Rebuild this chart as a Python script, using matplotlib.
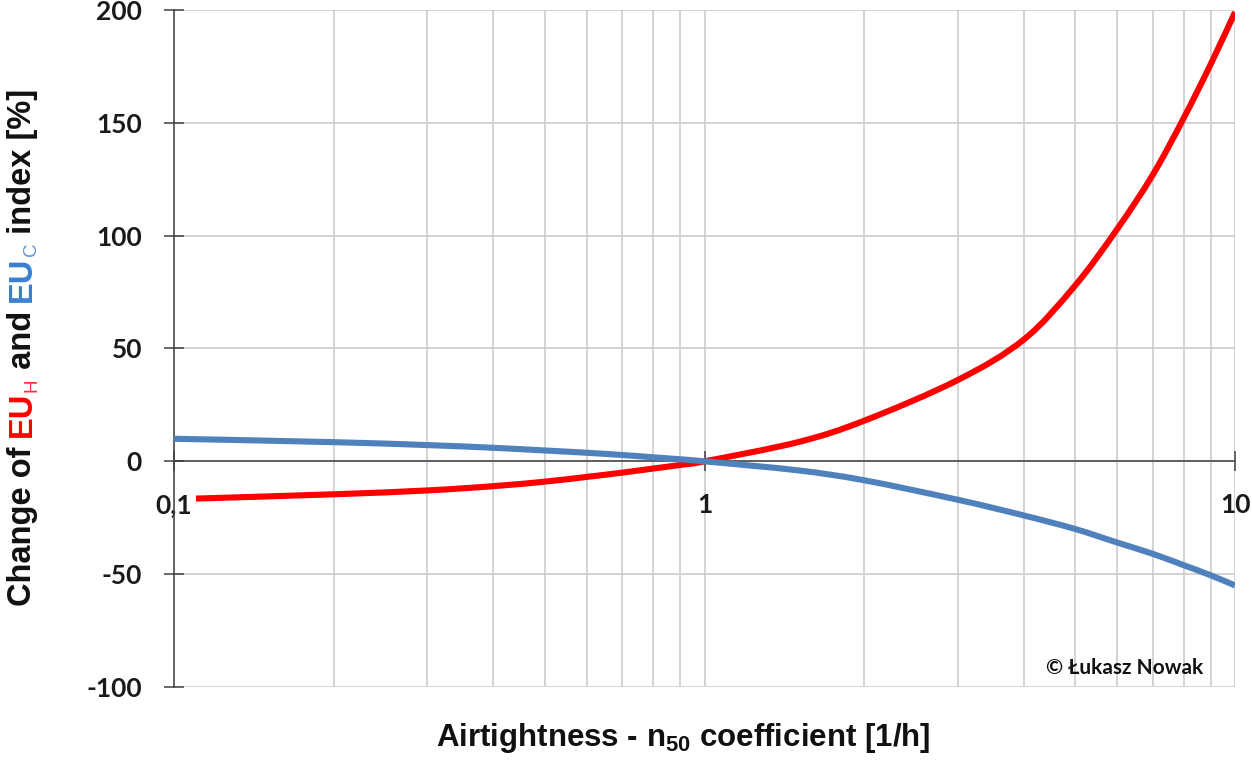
import numpy as np
import matplotlib
matplotlib.use('Agg')
import matplotlib.pyplot as plt
from matplotlib.font_manager import FontProperties
from matplotlib.ticker import FixedLocator, NullFormatter
from matplotlib.path import Path
from matplotlib.patches import PathPatch

# values
n50_heat = [0.11, 0.2, 0.3, 0.4, 0.5, 0.6, 0.7, 0.8, 0.9, 1, 1.5, 2, 3, 4, 5, 6, 7, 8, 9, 10]
eu_heat = [-16.5, -14.6, -12.9, -11, -9, -6.9, -5, -3.2, -1.6, 0, 8.5, 18, 36, 54, 78, 103, 127, 152, 176, 199]
n50_cool = [0.1, 0.2, 0.3, 0.4, 0.5, 0.6, 0.7, 0.8, 0.9, 1, 1.5, 2, 3, 4, 5, 6, 7, 8, 9, 10]
eu_cool = [10, 8.5, 7.2, 6, 4.8, 3.8, 2.8, 1.8, 0.9, 0, -4, -8.4, -17, -24, -30, -36, -41, -46, -50.5, -55]

x_major = [0.1, 1, 10]
x_major_labels = ['0,1', '1', '10']
y_ticks = [-100, -50, 0, 50, 100, 150, 200]


def smooth_path(xs, ys):
    # Catmull-Rom spline as cubic Bezier segments, built in log-x space
    lx = np.log10(xs)
    ys = np.asarray(ys, float)
    pts = np.column_stack([lx, ys])
    verts = [pts[0]]
    codes = [Path.MOVETO]
    n = len(pts)
    for i in range(n - 1):
        p0 = pts[max(i - 1, 0)]
        p1 = pts[i]
        p2 = pts[i + 1]
        p3 = pts[min(i + 2, n - 1)]
        c1 = p1 + (p2 - p0) / 6
        c2 = p2 - (p3 - p1) / 6
        verts += [c1, c2, p2]
        codes += [Path.CURVE4] * 3
    verts = np.array(verts)
    verts[:, 0] = 10 ** verts[:, 0]
    return Path(verts, codes)


W, H = 1252, 763
fig = plt.figure(figsize=(W / 100, H / 100), dpi=100)
ax = fig.add_axes([174 / W, 1 - 687 / H, (1235 - 174) / W, (687 - 10) / H])

ax.add_patch(PathPatch(smooth_path(n50_heat, eu_heat), fill=False, ec='#ff0000',
                       lw=4.4, capstyle='butt', zorder=3))
ax.add_patch(PathPatch(smooth_path(n50_cool, eu_cool), fill=False, ec='#4f81bd',
                       lw=4.4, capstyle='butt', zorder=4))

ax.set_xscale('log')
ax.set_xlim(0.1, 10)
ax.set_ylim(-100, 200)

minors = [m * d for d in (0.1, 1) for m in range(2, 10)]
ax.xaxis.set_major_locator(FixedLocator(x_major))
ax.xaxis.set_minor_locator(FixedLocator(minors))
ax.xaxis.set_minor_formatter(NullFormatter())
ax.set_xticks(x_major)
ax.set_xticklabels(x_major_labels)
ax.set_yticks(y_ticks)
ax.set_yticklabels([str(v) for v in y_ticks])

ax.grid(True, which='both', axis='x', color='#cccccc', lw=1.2, zorder=0)
ax.grid(True, which='major', axis='y', color='#cccccc', lw=1.2, zorder=0)
ax.set_axisbelow(True)

for s in ('top', 'right'):
    ax.spines[s].set_visible(False)
ax.spines['bottom'].set_position(('data', 0))
for s in ('left', 'bottom'):
    ax.spines[s].set_color('#404040')
    ax.spines[s].set_linewidth(1.1)
    ax.spines[s].set_zorder(2)

ax.tick_params(which='major', direction='inout', length=15, width=1.1,
               color='#404040', pad=15.5, labelcolor='#1a1a1a')
ax.tick_params(which='minor', length=0)
for lab in ax.get_xticklabels() + ax.get_yticklabels():
    lab.set_fontfamily('Lato')
    lab.set_fontweight('bold')
    lab.set_fontsize(19)

ax.text(1125 / W, 1 - 674 / H, '\u00a9 \u0141ukasz Nowak', transform=fig.transFigure,
        ha='center', va='baseline', family='Lato', weight='bold', size=15, color='#111111')

# x label with subscript
plt.rcParams['mathtext.fontset'] = 'custom'
plt.rcParams['mathtext.rm'] = 'Liberation Sans:bold'
plt.rcParams['mathtext.it'] = 'Liberation Sans:bold'
plt.rcParams['mathtext.bf'] = 'Liberation Sans:bold'
fig.text(683 / W, 1 - 746 / H, r'Airtightness - n$_{\mathrm{50}}$ coefficient [1/h]',
         ha='center', va='baseline', family='Liberation Sans', weight='bold',
         size=22.5, color='#111111')

# y label built from coloured pieces, rotated
renderer = fig.canvas.get_renderer()
main_size = 23.5
sub_size = 13.5
pieces = [
    ('Change of ', '#111111', main_size, 'bold', 0),
    ('EU', '#ff0000', main_size, 'bold', 0),
    ('H', '#ff3030', sub_size, 'normal', 5),
    (' and ', '#111111', main_size, 'bold', 0),
    ('EU', '#3a7fcf', main_size, 'bold', 0),
    ('C', '#5a96dc', sub_size, 'normal', 5),
    (' index [%]', '#111111', main_size, 'bold', 0),
]


def text_len(s, size, weight):
    fp = FontProperties(family='Liberation Sans', weight=weight, size=size)
    w1 = renderer.get_text_width_height_descent(s + '|', fp, ismath=False)[0]
    w2 = renderer.get_text_width_height_descent('|', fp, ismath=False)[0]
    return w1 - w2


lengths = [text_len(p[0], p[2], p[3]) for p in pieces]
total = sum(lengths)
y_pos = 347 + total / 2  # pixel from top, start of text (bottom end)
x_base = 31
for (s, c, size, weight, dx), ln in zip(pieces, lengths):
    fig.text((x_base + dx) / W, 1 - y_pos / H, s, rotation=90, rotation_mode='anchor',
             ha='left', va='baseline', family='Liberation Sans', weight=weight,
             size=size, color=c)
    y_pos -= ln

fig.savefig('out.png', dpi=100)
